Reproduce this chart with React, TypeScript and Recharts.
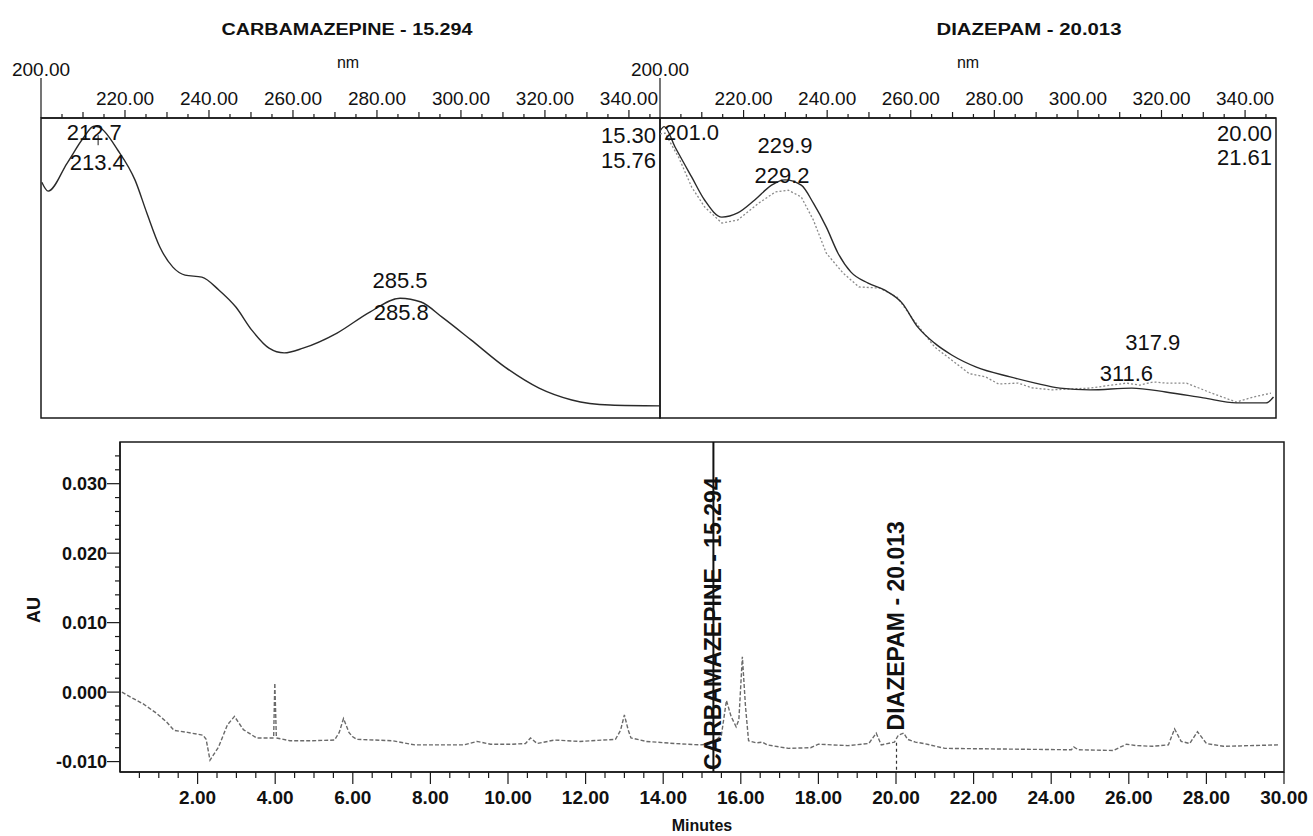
import React from "react";
import {
  LineChart,
  Line,
  XAxis,
  YAxis,
  ReferenceArea,
  ReferenceDot,
  ReferenceLine,
} from "recharts";

const FONT = "'Liberation Sans', Arial, Helvetica, sans-serif";
const INK = "#1a1a1a";

// UV spectrum at the carbamazepine peak (nm / relative absorbance)
const cbzNm = [200.2, 201.7, 206.2, 210.2, 212.6, 213.8, 218.3, 222.4, 225.2, 228.3, 231.4, 234.3, 238.3, 242.4, 246.4, 250.2, 254.3, 257.9, 262.4, 270.5, 278.3, 285.5, 290.5, 295.5, 302.4, 310.5, 318.6, 326.4, 335.5, 347.4];
const cbzAbs = [79.7, 76.7, 86.1, 94.9, 98.6, 98.3, 90.5, 80.4, 69.3, 57.8, 51.0, 48.3, 47.6, 43.2, 37.5, 29.7, 23.6, 22.0, 23.6, 28.7, 35.8, 40.5, 39.2, 34.1, 26.4, 17.2, 10.1, 6.1, 4.4, 4.1];

// UV spectrum at the diazepam peak, apex (solid) and library/edge (dotted)
const dzpNm = [200.0, 201.0, 203.6, 207.6, 210.7, 214.8, 218.6, 222.6, 226.7, 229.9, 233.8, 236.7, 239.8, 242.6, 245.7, 249.8, 253.8, 257.9, 261.7, 265.7, 269.8, 275.7, 283.8, 289.8, 295.7, 302.9, 312.9, 321.0, 330.0, 337.9, 345.0, 346.8];
const dzpAbs = [97.0, 98.5, 91.6, 81.4, 73.6, 67.9, 69.3, 73.6, 78.7, 80.5, 78.7, 72.6, 64.5, 55.7, 49.3, 45.6, 43.2, 38.9, 30.7, 25.3, 21.3, 17.2, 13.9, 11.8, 10.1, 9.5, 10.1, 8.8, 6.8, 5.1, 5.1, 7.1];
const dzpDotNm = [200.0, 201.2, 204.5, 207.6, 210.7, 214.8, 218.6, 223.6, 227.6, 230.7, 233.8, 236.7, 239.8, 243.8, 247.6, 252.6, 256.7, 260.7, 265.7, 270.7, 274.0, 277.9, 281.0, 285.7, 289.0, 293.8, 298.0, 302.9, 307.9, 311.6, 314.8, 318.0, 321.0, 326.0, 332.0, 337.9, 342.0, 346.2];
const dzpDotAbs = [96.0, 96.3, 88.0, 78.0, 71.3, 65.9, 66.9, 72.6, 76.4, 77.0, 74.7, 66.9, 55.7, 49.0, 44.3, 43.9, 40.9, 33.1, 24.0, 18.6, 15.0, 13.9, 11.5, 11.8, 10.2, 9.5, 9.8, 10.1, 11.1, 11.8, 11.1, 12.2, 11.8, 11.8, 8.4, 5.4, 7.1, 8.4];

// chromatogram (minutes / AU)
const chromMin = [0.05, 0.3, 0.6, 0.93, 1.2, 1.39, 1.74, 2.14, 2.22, 2.32, 2.54, 2.77, 2.95, 3.18, 3.52, 3.86, 3.96, 3.99, 4.03, 4.38, 4.95, 5.53, 5.65, 5.76, 5.9, 5.99, 6.1, 7.02, 7.6, 8.86, 9.2, 9.55, 10.1, 10.45, 10.58, 10.75, 11.2, 11.85, 12.77, 12.9, 13.0, 13.1, 13.17, 13.57, 14.3, 14.95, 15.27, 15.5, 15.63, 15.75, 15.88, 15.95, 16.04, 16.12, 16.2, 16.4, 16.55, 16.68, 17.23, 17.8, 18.0, 18.76, 19.3, 19.49, 19.62, 19.96, 20.06, 20.2, 20.3, 20.5, 20.72, 21.26, 22.88, 24.52, 24.58, 24.7, 25.6, 25.94, 26.2, 26.6, 27.02, 27.18, 27.35, 27.57, 27.77, 28.0, 28.44, 29.86];
const chromAu = [0.0, -0.0008, -0.0017, -0.003, -0.0043, -0.0055, -0.0058, -0.0062, -0.0068, -0.0098, -0.0079, -0.0047, -0.0035, -0.0054, -0.0066, -0.0066, -0.0066, 0.0013, -0.0066, -0.007, -0.007, -0.0069, -0.0058, -0.0038, -0.0058, -0.0064, -0.0068, -0.007, -0.0076, -0.0076, -0.0071, -0.0075, -0.0075, -0.0074, -0.0066, -0.0074, -0.0069, -0.0071, -0.0068, -0.0055, -0.0033, -0.0055, -0.0066, -0.0071, -0.0074, -0.0076, -0.0074, -0.0062, -0.0012, -0.0035, -0.005, -0.004, 0.0051, -0.002, -0.007, -0.0073, -0.0072, -0.0076, -0.0081, -0.008, -0.0075, -0.0077, -0.0074, -0.0059, -0.0076, -0.0072, -0.0062, -0.0059, -0.0068, -0.0072, -0.0074, -0.0081, -0.0082, -0.0083, -0.0079, -0.0083, -0.0084, -0.0075, -0.0077, -0.0078, -0.0076, -0.0053, -0.0071, -0.0074, -0.0057, -0.0074, -0.0078, -0.0076];

const nmTicks = Array.from({ length: 30 }, (_, i) => 200 + i * 5);
const minuteTicks = Array.from({ length: 60 }, (_, i) => (i + 1) * 0.5);
const auTicks = Array.from({ length: 23 }, (_, i) => Math.round(-10 + i * 2) / 1000);

const NM_MAX = 347.4;
const ABS_MAX = 101.4;

const cbzData = cbzNm.map((nm, i) => ({ nm, abs: cbzAbs[i] }));
const dzpData = dzpNm.map((nm, i) => ({ nm, abs: dzpAbs[i] }));
const dzpDotData = dzpDotNm.map((nm, i) => ({ nm, abs: dzpDotAbs[i] }));
const chromData = chromMin.map((t, i) => ({ t, au: chromAu[i] }));

// tick props: x/y sit on the axis line because tickSize and tickMargin are 0
function NmTick({ x, y, payload }: any) {
  const v = payload.value;
  const major = v % 20 === 0;
  const len = v === 200 ? 40 : major ? 8 : v % 10 === 0 ? 6 : 4;
  return (
    <g>
      <line x1={x} y1={y} x2={x} y2={y - len} stroke={INK} strokeWidth={1.2} />
      {major && (
        <text x={x} y={v === 200 ? y - 42 : y - 13} textAnchor="middle" fontFamily={FONT} fontSize={19} fill="#111">
          {v.toFixed(2)}
        </text>
      )}
    </g>
  );
}

function MinuteTick({ x, y, payload }: any) {
  const v = payload.value;
  const major = Math.abs(v / 2 - Math.round(v / 2)) < 1e-9;
  return (
    <g>
      <line x1={x} y1={y} x2={x} y2={y + (major ? 12 : 6)} stroke={INK} strokeWidth={1.2} />
      {major && (
        <text x={x} y={y + 32} textAnchor="middle" fontFamily={FONT} fontSize={19} fontWeight="bold" fill="#111">
          {v.toFixed(2)}
        </text>
      )}
    </g>
  );
}

function AuTick({ x, y, payload }: any) {
  const v = payload.value;
  const major = Math.abs(v * 100 - Math.round(v * 100)) < 1e-6;
  return (
    <g>
      <line x1={x} y1={y} x2={x - (major ? 13 : 5)} y2={y} stroke={INK} strokeWidth={1.2} />
      {major && (
        <text x={x - 13} y={y + 6.5} textAnchor="end" fontFamily={FONT} fontSize={18} fontWeight="bold" fill="#111">
          {v.toFixed(3)}
        </text>
      )}
    </g>
  );
}

const rotLabel = (text: string) => (props: any) => {
  const vb = props.viewBox || {};
  const bx = vb.x + 8;
  const by = vb.y - 2;
  return (
    <text
      x={bx}
      y={by}
      transform={`rotate(-90 ${bx} ${by})`}
      textAnchor="start"
      fontFamily={FONT}
      fontSize={23}
      fontWeight="bold"
      fill="#111"
    >
      {text}
    </text>
  );
};

const peakLabel = (value: string, position: any) => ({
  value,
  position,
  offset: 4,
  fontSize: 22,
  fontFamily: FONT,
  fill: "#111",
});

function Spectrum({ left, width, marginLeft, marginRight, children }: any) {
  return (
    <div style={{ position: "absolute", left, top: 0 }}>
      <LineChart width={width} height={430} margin={{ top: 117, left: marginLeft, right: marginRight, bottom: 12 }}>
        <XAxis
          type="number"
          dataKey="nm"
          orientation="top"
          domain={[200, NM_MAX]}
          allowDataOverflow
          ticks={nmTicks}
          interval={0}
          height={1}
          tickSize={0}
          tickMargin={0}
          tickLine={false}
          tick={(p: any) => <NmTick {...p} />}
          axisLine={{ stroke: INK, strokeWidth: 1.5 }}
        />
        <YAxis hide type="number" domain={[0, ABS_MAX]} allowDataOverflow />
        <ReferenceArea x1={200} x2={NM_MAX} y1={0} y2={ABS_MAX} fill="none" stroke={INK} strokeWidth={1.5} ifOverflow="visible" />
        {children}
      </LineChart>
    </div>
  );
}

export default function App() {
  return (
    <div style={{ position: "absolute", left: 0, top: 0, width: 1313, height: 836, background: "#fff", overflow: "hidden" }}>
      <Spectrum left={0} width={700} marginLeft={41} marginRight={40}>
        <Line data={cbzData} dataKey="abs" type="monotone" stroke="#2a2a2a" strokeWidth={1.4} dot={false} isAnimationActive={false} />
        <ReferenceLine segment={[{ x: 213.6, y: 95.6 }, { x: 213.6, y: 92.2 }]} stroke={INK} strokeWidth={1} />
        <ReferenceDot x={212.7} y={96.6} r={0} fill="none" stroke="none" label={peakLabel("212.7", "center")} />
        <ReferenceDot x={213.4} y={86.5} r={0} fill="none" stroke="none" label={peakLabel("213.4", "center")} />
        <ReferenceDot x={285.5} y={46.6} r={0} fill="none" stroke="none" label={peakLabel("285.5", "center")} />
        <ReferenceDot x={285.8} y={35.8} r={0} fill="none" stroke="none" label={peakLabel("285.8", "center")} />
        <ReferenceDot x={NM_MAX} y={95.6} r={0} fill="none" stroke="none" label={peakLabel("15.30", "left")} />
        <ReferenceDot x={NM_MAX} y={87.2} r={0} fill="none" stroke="none" label={peakLabel("15.76", "left")} />
      </Spectrum>

      <Spectrum left={620} width={690} marginLeft={40} marginRight={34}>
        <Line data={dzpDotData} dataKey="abs" type="linear" stroke="#8a8a8a" strokeWidth={1.3} strokeDasharray="2 2" dot={false} isAnimationActive={false} />
        <Line data={dzpData} dataKey="abs" type="monotone" stroke="#2a2a2a" strokeWidth={1.4} dot={false} isAnimationActive={false} />
        <ReferenceDot x={200} y={96.6} r={0} fill="none" stroke="none" label={peakLabel("201.0", "right")} />
        <ReferenceDot x={229.9} y={92.2} r={0} fill="none" stroke="none" label={peakLabel("229.9", "center")} />
        <ReferenceDot x={229.2} y={82.1} r={0} fill="none" stroke="none" label={peakLabel("229.2", "center")} />
        <ReferenceDot x={317.9} y={25.7} r={0} fill="none" stroke="none" label={peakLabel("317.9", "center")} />
        <ReferenceDot x={311.6} y={15.2} r={0} fill="none" stroke="none" label={peakLabel("311.6", "center")} />
        <ReferenceDot x={NM_MAX} y={96.3} r={0} fill="none" stroke="none" label={peakLabel("20.00", "left")} />
        <ReferenceDot x={NM_MAX} y={88.2} r={0} fill="none" stroke="none" label={peakLabel("21.61", "left")} />
      </Spectrum>

      <div style={{ position: "absolute", left: 0, top: 430 }}>
        <LineChart width={1313} height={406} data={chromData} margin={{ top: 12, left: 119, right: 29, bottom: 63 }}>
          <XAxis
            type="number"
            dataKey="t"
            domain={[0, 30]}
            allowDataOverflow
            ticks={minuteTicks}
            interval={0}
            height={1}
            tickSize={0}
            tickMargin={0}
            tickLine={false}
            tick={(p: any) => <MinuteTick {...p} />}
            axisLine={{ stroke: INK, strokeWidth: 1.5 }}
          />
          <YAxis
            type="number"
            domain={[-0.0115, 0.036]}
            allowDataOverflow
            ticks={auTicks}
            interval={0}
            width={1}
            tickSize={0}
            tickMargin={0}
            tickLine={false}
            tick={(p: any) => <AuTick {...p} />}
            axisLine={{ stroke: INK, strokeWidth: 1.5 }}
          />
          <ReferenceArea x1={0} x2={30} y1={-0.0115} y2={0.036} fill="none" stroke={INK} strokeWidth={1.5} ifOverflow="visible" />
          <Line dataKey="au" type="linear" stroke="#6a6a6a" strokeWidth={1.4} strokeDasharray="4 2" dot={false} isAnimationActive={false} />
          <ReferenceLine x={15.294} stroke="#111" strokeWidth={2} />
          <ReferenceLine segment={[{ x: 20.013, y: -0.0073 }, { x: 20.013, y: -0.0115 }]} stroke="#333" strokeWidth={1.2} strokeDasharray="3 3" />
          <ReferenceDot x={15.294} y={-0.0115} r={0} fill="none" stroke="none" label={{ content: rotLabel("CARBAMAZEPINE - 15.294") }} />
          <ReferenceDot x={20.013} y={-0.0058} r={0} fill="none" stroke="none" label={{ content: rotLabel("DIAZEPAM - 20.013") }} />
        </LineChart>
      </div>

      <svg width={1313} height={836} style={{ position: "absolute", left: 0, top: 0, pointerEvents: "none" }}>
        <g fontFamily={FONT} fill="#111">
          <text x={347} y={35} textAnchor="middle" fontSize={16} fontWeight="bold" textLength={251} lengthAdjust="spacingAndGlyphs">
            CARBAMAZEPINE - 15.294
          </text>
          <text x={1029} y={35} textAnchor="middle" fontSize={16} fontWeight="bold" textLength={185} lengthAdjust="spacingAndGlyphs">
            DIAZEPAM - 20.013
          </text>
          <text x={348} y={68} textAnchor="middle" fontSize={16}>nm</text>
          <text x={968} y={68} textAnchor="middle" fontSize={16}>nm</text>
          <text x={40} y={610} transform="rotate(-90 40 610)" textAnchor="middle" fontSize={18} fontWeight="bold">AU</text>
          <text x={702} y={831} textAnchor="middle" fontSize={16} fontWeight="bold">Minutes</text>
        </g>
      </svg>
    </div>
  );
}
